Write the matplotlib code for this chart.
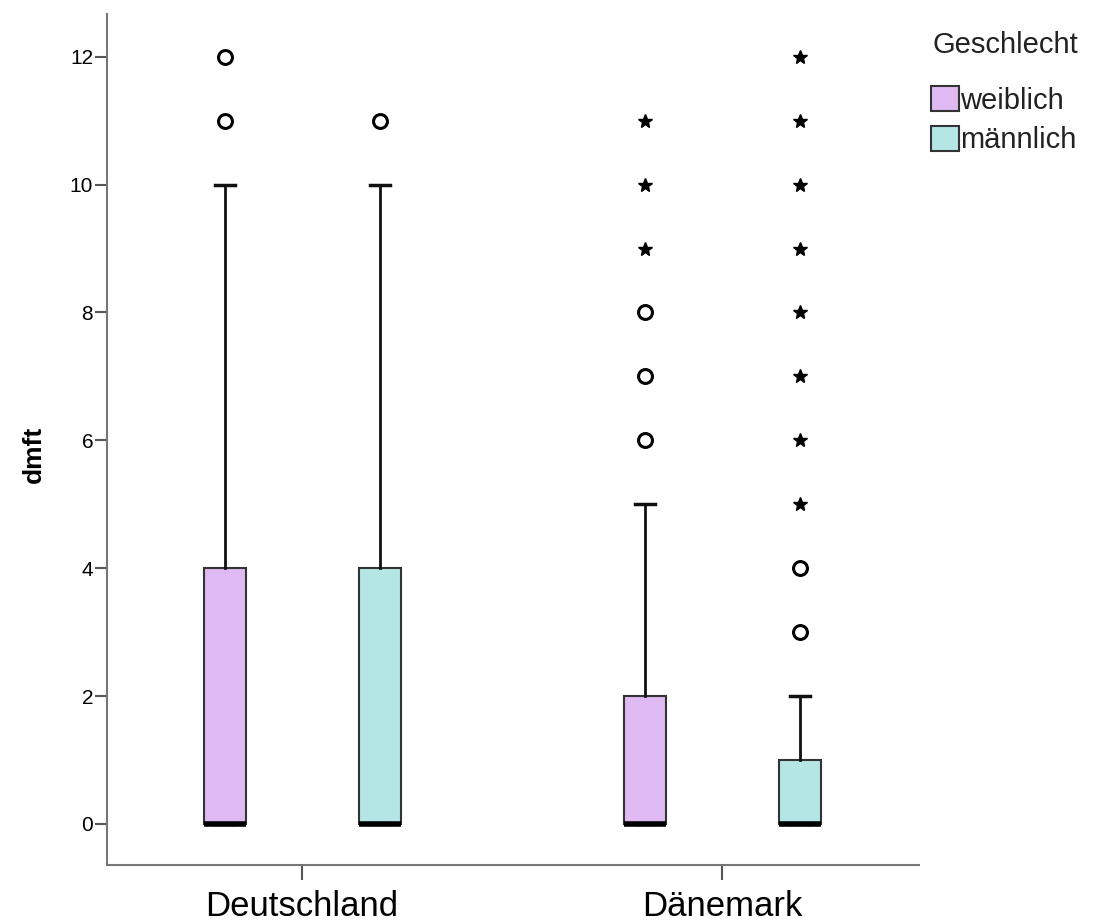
import numpy as np
import matplotlib.pyplot as plt

plt.rcParams['font.family'] = ['Liberation Sans', 'DejaVu Sans']

countries = ["Deutschland", "Dänemark"]
groups = ["weiblich", "männlich"]
colors = ["#DEB9F2", "#B5E6E6"]

# box stats per country, per sex: q1, median, q3, whisker low, whisker high
q1 = [[0, 0], [0, 0]]
med = [[0, 0], [0, 0]]
q3 = [[4, 4], [2, 1]]
whislo = [[0, 0], [0, 0]]
whishi = [[10, 10], [5, 2]]

# outliers (circles) and extreme values (stars)
circles = [[[11, 12], [11]], [[6, 7, 8], [3, 4]]]
stars = [[[], []], [[9, 10, 11], [5, 6, 7, 8, 9, 10, 11, 12]]]

fig = plt.figure(figsize=(10.93, 9.24), dpi=100)
ax = fig.add_axes([0.098, 0.064, 0.743, 0.921])

offsets = [-0.183, 0.185]
for ci in range(len(countries)):
    for gi in range(len(groups)):
        pos = ci + 1 + offsets[gi]
        stats = [dict(q1=q1[ci][gi], med=med[ci][gi], q3=q3[ci][gi],
                      whislo=whislo[ci][gi], whishi=whishi[ci][gi], fliers=[])]
        ax.bxp(stats, positions=[pos], widths=0.1, patch_artist=True,
               showfliers=False,
               boxprops=dict(facecolor=colors[gi], edgecolor="#333333", linewidth=1.5),
               medianprops=dict(color="black", linewidth=4, solid_capstyle="butt"),
               whiskerprops=dict(color="#111111", linewidth=2),
               capprops=dict(color="#111111", linewidth=2.5),
               capwidths=0.048, manage_ticks=False)
        c = circles[ci][gi]
        if c:
            ax.plot([pos] * len(c), c, linestyle="none", marker="o", markersize=10,
                    markerfacecolor="white", markeredgecolor="black", markeredgewidth=2.2)
        s = stars[ci][gi]
        if s:
            ax.plot([pos] * len(s), s, linestyle="none", marker="*", markersize=10,
                    color="black")

ax.set_xlim(0.536, 2.469)
ax.set_ylim(-0.64, 12.67)
ax.set_xticks([1, 2])
ax.set_xticklabels(countries, fontsize=25)
ax.set_yticks(range(0, 13, 2))
ax.tick_params(axis="y", labelsize=15, length=9, width=1.5, color="#555555", pad=1)
ax.tick_params(axis="x", length=11, width=1.5, color="#555555", pad=7)
ax.set_ylabel("dmft", fontsize=19, fontweight="bold")
ax.yaxis.set_label_coords(-0.076, 0.482)

for side in ["top", "right"]:
    ax.spines[side].set_visible(False)
for side in ["left", "bottom"]:
    ax.spines[side].set_color("#777777")
    ax.spines[side].set_linewidth(1.5)

fig.text(0.853, 0.951, "Geschlecht", fontsize=21, color="#222222", va="center", ha="left")
handles = [plt.Rectangle((0, 0), 1, 1, facecolor=colors[i], edgecolor="#333333", linewidth=1.5)
           for i in range(len(groups))]
leg = fig.legend(handles, groups, loc="upper left",
                 bbox_to_anchor=(0.833, 0.929), frameon=False, fontsize=21,
                 handlelength=0.95, handleheight=0.95, borderpad=0.2,
                 handletextpad=0.05, labelspacing=0.38)
for t in leg.get_texts():
    t.set_color("#222222")

fig.savefig("out.png", dpi=100)
